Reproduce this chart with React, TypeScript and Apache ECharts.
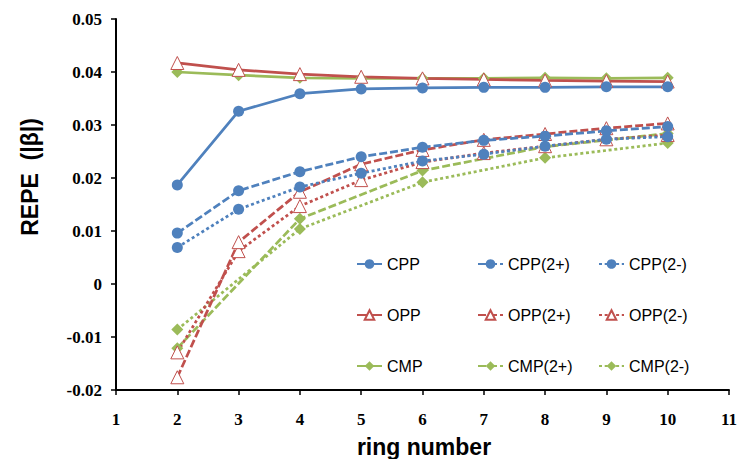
import React, { useEffect, useRef } from "react";
import * as echarts from "echarts";

const ringNumbers = [2, 3, 4, 5, 6, 7, 8, 9, 10];
const cpp = [0.0187, 0.0326, 0.0359, 0.0368, 0.037, 0.0371, 0.0371, 0.0372, 0.0372];
const cpp2p = [0.0096, 0.0176, 0.0212, 0.024, 0.0258, 0.0271, 0.0279, 0.0289, 0.0297];
const cpp2m = [0.0069, 0.0141, 0.0183, 0.0209, 0.0232, 0.0245, 0.026, 0.0273, 0.0278];
const opp = [0.0417, 0.0404, 0.0396, 0.0391, 0.0388, 0.0386, 0.0384, 0.0383, 0.0382];
const opp2p = [-0.0176, 0.0079, 0.0174, 0.0226, 0.0253, 0.0272, 0.0283, 0.0294, 0.0303];
const opp2m = [-0.0129, 0.0062, 0.0147, 0.0196, 0.023, 0.0247, 0.026, 0.0273, 0.0281];
const cmp = [0.04, 0.0394, 0.0389, 0.0388, 0.0388, 0.0388, 0.0389, 0.0388, 0.0389];
const cmp2p: (number | null)[] = [-0.0121, null, 0.0123, null, 0.0214, null, 0.0259, null, 0.0284];
const cmp2m: (number | null)[] = [-0.0086, null, 0.0104, null, 0.0192, null, 0.0238, null, 0.0266];

const xTicks = { min: 1, max: 11, interval: 1 };
const yTicks = { min: -0.02, max: 0.05, interval: 0.01 };

const BLUE = "#4F81BD";
const RED = "#C0504D";
const GREEN = "#9BBB59";
const DASH = [8, 3];
const DOT = [3, 2.7];

function pairs(arr: (number | null)[]) {
  return ringNumbers.map((x, i) => [x, arr[i] === null ? "-" : arr[i]]);
}

function mk(name: string, arr: (number | null)[], family: "c" | "o" | "m", style: "solid" | "dash" | "dot") {
  const color = family === "c" ? BLUE : family === "o" ? RED : GREEN;
  const symbol = family === "c" ? "circle" : family === "o" ? "triangle" : "diamond";
  const symbolSize = family === "c" ? 11 : family === "o" ? 13 : 12;
  const itemStyle =
    family === "o"
      ? { color: "#ffffff", borderColor: RED, borderWidth: 1 }
      : { color };
  return {
    name,
    type: "line",
    data: pairs(arr),
    symbol,
    symbolSize,
    showAllSymbol: true,
    connectNulls: true,
    itemStyle,
    lineStyle: {
      color,
      width: 2.75,
      type: style === "solid" ? "solid" : style === "dash" ? DASH : DOT,
    },
    z: style === "solid" ? 3 : 2,
  };
}

export default function App() {
  const ref = useRef<HTMLDivElement>(null);
  useEffect(() => {
    if (!ref.current) return;
    const chart = echarts.init(ref.current, null, { renderer: "svg" });
    const legendBase = {
      orient: "vertical",
      top: 251,
      itemGap: 35,
      itemWidth: 25,
      itemHeight: 12,
      textStyle: { fontSize: 16, fontFamily: "'Liberation Sans', Arial, sans-serif", color: "#000" },
    };
    const tickFont = {
      fontFamily: "'Liberation Serif', 'Times New Roman', serif",
      fontWeight: "bold",
      fontSize: 17,
      color: "#000",
    };
    chart.setOption({
      animation: false,
      backgroundColor: "#ffffff",
      grid: { left: 116, right: 7, top: 19, bottom: 69, containLabel: false },
      xAxis: {
        type: "value",
        ...xTicks,
        axisLine: { onZero: false, lineStyle: { color: "#000", width: 2 } },
        axisTick: { show: true, inside: false, length: 5, lineStyle: { color: "#000", width: 1.5 } },
        splitLine: { show: false },
        axisLabel: { ...tickFont, margin: 21 },
      },
      yAxis: {
        type: "value",
        ...yTicks,
        axisLine: { show: true, onZero: false, lineStyle: { color: "#000", width: 2 } },
        axisTick: { show: true, inside: false, length: 5, lineStyle: { color: "#000", width: 1.5 } },
        splitLine: { show: false },
        axisLabel: {
          ...tickFont,
          margin: 14,
          formatter: (v: number) => (Math.abs(v) < 1e-9 ? "0" : v.toFixed(2)),
        },
      },
      legend: [
        { ...legendBase, left: 351, data: ["CPP", "OPP", "CMP"] },
        { ...legendBase, left: 472, data: ["CPP(2+)", "OPP(2+)", "CMP(2+)"] },
        { ...legendBase, left: 593, data: ["CPP(2-)", "OPP(2-)", "CMP(2-)"] },
      ],
      graphic: [
        {
          type: "text",
          x: 424,
          y: 447,
          style: {
            text: "ring number",
            font: "bold 23px 'Liberation Sans', Arial, sans-serif",
            fill: "#000",
            textAlign: "center",
            textVerticalAlign: "middle",
          },
        },
        {
          type: "text",
          x: 30,
          y: 177,
          rotation: Math.PI / 2,
          style: {
            text: "REPE  (|β|)",
            font: "bold 23px 'Liberation Sans', Arial, sans-serif",
            fill: "#000",
            textAlign: "center",
            textVerticalAlign: "middle",
          },
        },
      ],
      series: [
        mk("CMP(2-)", cmp2m, "m", "dot"),
        mk("CMP(2+)", cmp2p, "m", "dash"),
        mk("OPP(2-)", opp2m, "o", "dot"),
        mk("OPP(2+)", opp2p, "o", "dash"),
        mk("CPP(2-)", cpp2m, "c", "dot"),
        mk("CPP(2+)", cpp2p, "c", "dash"),
        mk("CMP", cmp, "m", "solid"),
        mk("OPP", opp, "o", "solid"),
        mk("CPP", cpp, "c", "solid"),
      ],
    });
    return () => chart.dispose();
  }, []);
  return (
    <div
      ref={ref}
      style={{ position: "fixed", left: 0, top: 0, width: 740, height: 459, background: "#fff" }}
    />
  );
}
